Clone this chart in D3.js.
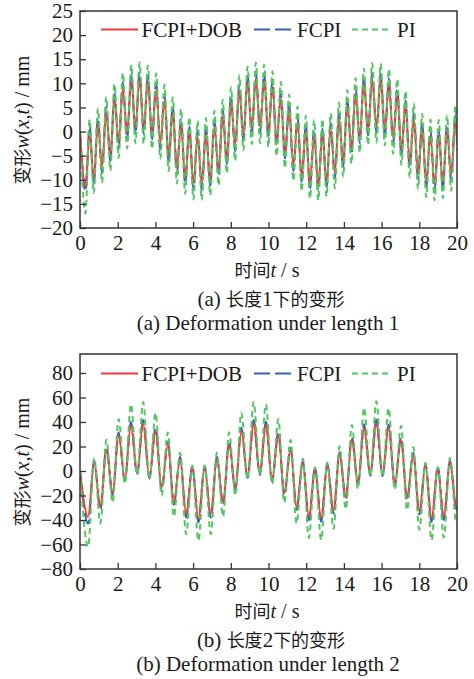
<!DOCTYPE html>
<html lang="zh">
<head>
<meta charset="utf-8">
<title>Deformation under length 1 and 2</title>
<script src="https://cdn.jsdelivr.net/npm/d3@7"></script>
<style>
  body { margin: 0; background: #fff; }
  svg text { font-family: "Liberation Serif", "Times New Roman", serif; fill: #1a1a1a; }
  .cjk { font-family: "Noto Sans CJK SC", sans-serif; font-size: 18px; }
</style>
</head>
<body>
<script>
// legend names and colours
var names  = ["FCPI+DOB", "FCPI", "PI"];
var colors = ["#f23a3a", "#3461b8", "#55c462"];
var dashes = [null, "16,5", "6,4"];

var xTicks = [0, 2, 4, 6, 8, 10, 12, 14, 16, 18, 20];

var timeA = [0, 0.29, 0.51, 0.73, 0.95, 1.17, 1.39, 1.61, 1.83, 2.05, 2.27,
  2.50, 2.72, 2.94, 3.16, 3.38, 3.60, 3.82, 4.04, 4.26, 4.48,
  4.70, 4.92, 5.14, 5.36, 5.58, 5.80, 6.02, 6.24, 6.46, 6.68,
  6.91, 7.13, 7.35, 7.57, 7.79, 8.01, 8.23, 8.45, 8.67, 8.89,
  9.11, 9.33, 9.55, 9.77, 9.99, 10.21, 10.43, 10.65, 10.87, 11.09,
  11.32, 11.54, 11.76, 11.98, 12.20, 12.42, 12.64, 12.86, 13.08, 13.30,
  13.52, 13.74, 13.96, 14.18, 14.40, 14.62, 14.84, 15.06, 15.28, 15.50,
  15.73, 15.95, 16.17, 16.39, 16.61, 16.83, 17.05, 17.27, 17.49, 17.71,
  17.93, 18.15, 18.37, 18.59, 18.81, 19.03, 19.25, 19.47, 19.69, 19.91, 20];
var dobA = [0, -11.5, -0.5, -9.5, 1.5, -7.3, 3.9, -4.8, 6.6, -2.2, 8.9,
  -0.2, 10.5, 0.9, 11.0, 0.8, 10.4, -0.3, 8.8, -2.4, 6.4,
  -4.9, 3.8, -7.5, 1.4, -9.6, -0.3, -10.8, -1.0, -10.9, -0.5,
  -9.9, 1.0, -7.9, 3.3, -5.4, 5.9, -2.8, 8.4, -0.6, 10.2,
  0.7, 11.0, 1.0, 10.6, 0.1, 9.2, -1.8, 7.0, -4.3, 4.4,
  -6.9, 1.9, -9.1, 0.0, -10.6, -0.9, -11.0, -0.8, -10.2, 0.5,
  -8.5, 2.7, -6.1, 5.3, -3.4, 7.8, -1.1, 9.8, 0.5, 10.9,
  1.0, 10.8, 0.4, 9.7, -1.3, 7.6, -3.6, 5.1, -6.3, 2.5,
  -8.6, 0.4, -10.3, -0.8, -11.0, -0.9, -10.5, 0.1, -9.0, 2.1, -1.5];
var fcpiA = [0, -12.4, 1.1, -10.8, 2.8, -8.6, 5.2, -6.1, 7.9, -3.5, 10.2,
  -1.5, 11.8, -0.4, 12.3, -0.5, 11.7, -1.6, 10.1, -3.7, 7.7,
  -6.2, 5.1, -8.8, 2.7, -10.9, 1.0, -12.1, 0.3, -12.2, 0.8,
  -11.2, 2.3, -9.2, 4.6, -6.7, 7.2, -4.1, 9.7, -1.9, 11.5,
  -0.6, 12.3, -0.4, 11.9, -1.2, 10.5, -3.1, 8.3, -5.6, 5.7,
  -8.2, 3.2, -10.4, 1.3, -11.9, 0.4, -12.3, 0.6, -11.5, 1.8,
  -9.8, 4.0, -7.4, 6.6, -4.7, 9.1, -2.4, 11.1, -0.8, 12.2,
  -0.3, 12.1, -0.9, 11.0, -2.6, 8.9, -4.9, 6.4, -7.6, 3.8,
  -9.9, 1.7, -11.6, 0.5, -12.3, 0.4, -11.8, 1.4, -10.3, 3.4, -2.0];
var piA = [0, -17.0, 2.5, -12.8, 4.8, -10.6, 7.2, -8.1, 9.9, -5.5, 12.2,
  -3.5, 13.8, -2.4, 14.3, -2.5, 13.7, -3.6, 12.1, -5.7, 9.7,
  -8.2, 7.1, -10.8, 4.7, -12.9, 3.0, -14.1, 2.3, -14.2, 2.8,
  -13.2, 4.3, -11.2, 6.6, -8.7, 9.2, -6.1, 11.7, -3.9, 13.5,
  -2.6, 14.3, -2.4, 13.9, -3.2, 12.5, -5.1, 10.3, -7.6, 7.7,
  -10.2, 5.2, -12.4, 3.3, -13.9, 2.4, -14.3, 2.6, -13.5, 3.8,
  -11.8, 6.0, -9.4, 8.6, -6.7, 11.1, -4.4, 13.1, -2.8, 14.2,
  -2.3, 14.1, -2.9, 13.0, -4.6, 10.9, -6.9, 8.4, -9.6, 5.8,
  -11.9, 3.7, -13.6, 2.5, -14.3, 2.4, -13.8, 3.4, -12.3, 5.4, -4.0];
var yTicksA = [-20, -15, -10, -5, 0, 5, 10, 15, 20, 25];

// panel (b)
var timeB = [0, 0.43, 0.75, 1.08, 1.40, 1.73, 2.05, 2.38, 2.70, 3.03, 3.35,
  3.68, 4.01, 4.33, 4.66, 4.98, 5.31, 5.63, 5.96, 6.28, 6.61,
  6.94, 7.26, 7.59, 7.91, 8.24, 8.56, 8.89, 9.21, 9.54, 9.86,
  10.19, 10.52, 10.84, 11.17, 11.49, 11.82, 12.14, 12.47, 12.79, 13.12,
  13.45, 13.77, 14.10, 14.42, 14.75, 15.07, 15.40, 15.72, 16.05, 16.37,
  16.70, 17.03, 17.35, 17.68, 18.00, 18.33, 18.65, 18.98, 19.30, 19.63,
  19.96, 20];
var dobB = [0, -37.5, 7.0, -29.3, 17.4, -17.6, 29.1, -7.1, 37.3, -2.1, 38.6,
  -4.6, 32.5, -13.6, 21.5, -25.4, 10.1, -35.2, 3.0, -39.0, 3.0,
  -35.2, 10.1, -25.4, 21.6, -13.6, 32.5, -4.6, 38.6, -2.1, 37.3,
  -7.2, 29.0, -17.7, 17.4, -29.3, 6.9, -37.4, 2.1, -38.5, 4.8,
  -32.3, 13.9, -21.3, 25.7, -9.9, 35.4, -2.9, 39.0, -3.1, 35.1,
  -10.4, 25.1, -21.8, 13.3, -32.8, 4.5, -38.6, 2.1, -37.1, 7.4,
  -28.8, -28.5];
var fcpiB = [0, -43.0, 8.3, -31.8, 19.2, -19.5, 31.5, -8.4, 40.2, -3.1, 41.6,
  -5.8, 35.2, -15.3, 23.6, -27.7, 11.6, -38.0, 4.0, -42.0, 4.0,
  -38.0, 11.6, -27.7, 23.6, -15.2, 35.2, -5.7, 41.6, -3.1, 40.2,
  -8.4, 31.5, -19.5, 19.2, -31.8, 8.2, -40.3, 3.1, -41.5, 5.9,
  -34.9, 15.5, -23.3, 28.0, -11.3, 38.2, -3.9, 42.0, -4.2, 37.9,
  -11.8, 27.4, -23.9, 15.0, -35.4, 5.7, -41.6, 3.2, -40.0, 8.6,
  -31.3, -31.0];
var piB = [0, -62.0, 10.3, -42.8, 25.5, -25.8, 42.5, -10.5, 54.5, -3.2, 56.4,
  -6.8, 47.5, -20.0, 31.5, -37.2, 14.9, -51.5, 4.4, -57.0, 4.4,
  -51.5, 14.9, -37.2, 31.6, -19.9, 47.6, -6.8, 56.4, -3.2, 54.5,
  -10.5, 42.5, -25.9, 25.4, -42.9, 10.2, -54.7, 3.1, -56.3, 7.0,
  -47.2, 20.3, -31.1, 37.6, -14.5, 51.7, -4.3, 57.0, -4.6, 51.3,
  -15.2, 36.8, -31.9, 19.6, -47.9, 6.7, -56.5, 3.2, -54.3, 10.8,
  -42.1, -41.5];
var yTicksB = [-80, -60, -40, -20, 0, 20, 40, 60, 80];

var width = 474, height = 679;
var left = 80, right = 457;
var serif = "'Liberation Serif', 'Times New Roman', serif";

var svg = d3.select("body").append("svg")
    .attr("width", width)
    .attr("height", height);

function drawPanel(p, id) {
    var x = d3.scaleLinear().domain([0, 20]).range([left, right]);
    var y = d3.scaleLinear().domain(p.yDomain).range([p.bottom, p.top]);
    var g = svg.append("g");

    g.append("clipPath").attr("id", id)
      .append("rect")
        .attr("x", left).attr("y", p.top)
        .attr("width", right - left).attr("height", p.bottom - p.top);

    // curves: blue under red, green dashes on top
    var line = d3.line()
        .x(function(d) { return x(d[0]); })
        .y(function(d) { return y(d[1]); })
        .curve(d3.curveMonotoneX);
    [1, 0, 2].forEach(function(k) {
        var pts = p.time.map(function(t, i) { return [t, p.series[k][i]]; });
        g.append("path")
            .attr("clip-path", "url(#" + id + ")")
            .attr("d", line(pts))
            .attr("fill", "none")
            .attr("stroke", colors[k])
            .attr("stroke-width", k == 0 ? 1.9 : 2)
            .attr("stroke-dasharray", dashes[k]);
    });

    // axes with inward ticks
    var ya = g.append("g").attr("transform", "translate(" + left + ",0)")
        .call(d3.axisLeft(y).tickValues(p.yTicks).tickSizeInner(-6).tickSizeOuter(0).tickPadding(7));
    var xa = g.append("g").attr("transform", "translate(0," + p.bottom + ")")
        .call(d3.axisBottom(x).tickValues(xTicks).tickSizeInner(-6).tickSizeOuter(0));
    [ya, xa].forEach(function(a) {
        a.attr("font-family", null);
        a.select(".domain").remove();
        a.selectAll("line").attr("stroke", "#333").attr("stroke-width", 1.3);
        a.selectAll("text").style("font-family", serif).style("font-size", "21px");
    });
    xa.selectAll("text").attr("y", 15).attr("dy", "0.35em");

    g.append("rect")
        .attr("x", left).attr("y", p.top)
        .attr("width", right - left).attr("height", p.bottom - p.top)
        .attr("fill", "none").attr("stroke", "#333").attr("stroke-width", 1.5);

    // legend
    var lx = [[101, 138, 141.5], [254, 293, 297], [352, 392, 397]];
    names.forEach(function(n, k) {
        g.append("line")
            .attr("x1", lx[k][0]).attr("x2", lx[k][1])
            .attr("y1", p.legendY).attr("y2", p.legendY)
            .attr("stroke", colors[k]).attr("stroke-width", k == 0 ? 1.9 : 2)
            .attr("stroke-dasharray", dashes[k]);
        g.append("text")
            .attr("x", lx[k][2]).attr("y", p.legendY).attr("dy", "0.35em")
            .attr("font-size", 21).text(n);
    });

    // y label
    var yl = g.append("text")
        .attr("transform", "translate(22," + p.yLabelY + ") rotate(-90)")
        .attr("text-anchor", "middle").attr("dy", "0.35em")
        .attr("font-size", 20);
    yl.append("tspan").attr("class", "cjk").text("变形");
    yl.append("tspan").attr("font-style", "italic").text("w");
    yl.append("tspan").text("(");
    yl.append("tspan").attr("font-style", "italic").text("x");
    yl.append("tspan").text(",");
    yl.append("tspan").attr("font-style", "italic").text("t");
    yl.append("tspan").text(") / mm");

    // x label
    var xl = g.append("text")
        .attr("x", 267).attr("y", p.bottom + 42).attr("dy", "0.35em")
        .attr("text-anchor", "middle").attr("font-size", 20);
    xl.append("tspan").attr("class", "cjk").text("时间");
    xl.append("tspan").attr("font-style", "italic").text("t");
    xl.append("tspan").text(" / s");

    // captions
    var c1 = g.append("text")
        .attr("x", 271).attr("y", p.bottom + 71).attr("dy", "0.35em")
        .attr("text-anchor", "middle").attr("font-size", 21);
    c1.append("tspan").text(p.tag + " ");
    c1.append("tspan").attr("class", "cjk").text("长度");
    c1.append("tspan").text(p.num);
    c1.append("tspan").attr("class", "cjk").text("下的变形");
    g.append("text")
        .attr("x", 268).attr("y", p.bottom + 95).attr("dy", "0.35em")
        .attr("text-anchor", "middle").attr("font-size", 21)
        .text(p.tag + " Deformation under length " + p.num);
}

drawPanel({
    top: 11, bottom: 228, yDomain: [-20, 25], yTicks: yTicksA,
    time: timeA, series: [dobA, fcpiA, piA],
    legendY: 29.5, yLabelY: 120, tag: "(a)", num: "1"
}, "clipA");

drawPanel({
    top: 354, bottom: 569, yDomain: [-80, 95.5], yTicks: yTicksB,
    time: timeB, series: [dobB, fcpiB, piB],
    legendY: 373.5, yLabelY: 462, tag: "(b)", num: "2"
}, "clipB");
</script>
</body>
</html>
